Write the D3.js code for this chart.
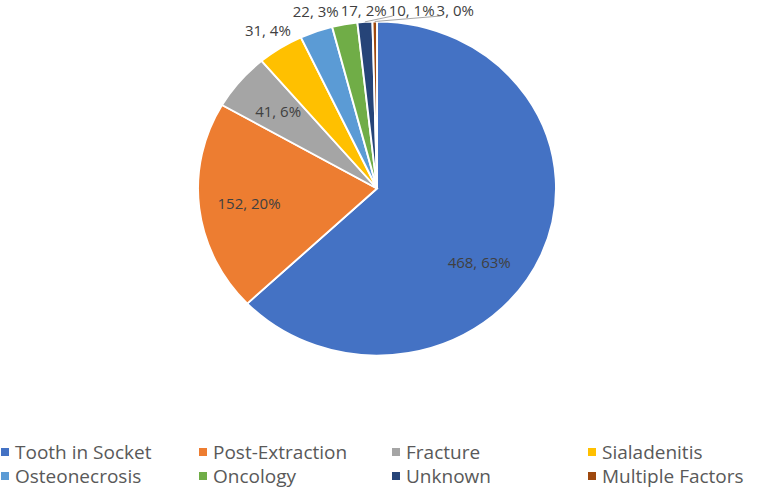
<!DOCTYPE html>
<html>
<head>
<meta charset="utf-8">
<script src="https://cdn.jsdelivr.net/npm/d3@7"></script>
<style>
body{margin:0;background:#fff;}
svg{display:block;font-family:"Open Sans",sans-serif;}
</style>
</head>
<body>
<svg width="762" height="489"></svg>
<script>
const categories = ["Tooth in Socket","Post-Extraction","Fracture","Sialadenitis","Osteonecrosis","Oncology","Unknown","Multiple Factors"];
const counts = [468,152,41,31,22,17,10,3];
const colors = ["#4472C4","#ED7D31","#A5A5A5","#FFC000","#5B9BD5","#70AD47","#264478","#9E480E"];

const width = 762, height = 489;
const cx = 377, cy = 188.5;
const ry = 167, rx = 179; // the reference pie is a little wider than tall
const total = d3.sum(counts);

const svg = d3.select("svg");

const pie = d3.pie().sort(null).value(d=>d)(counts);
const arc = d3.arc().innerRadius(0).outerRadius(ry);

const pieG = svg.append("g")
  .attr("transform",`translate(${cx},${cy}) scale(${rx/ry},1)`);

pieG.selectAll("path")
  .data(pie)
  .enter()
  .append("path")
  .attr("d",arc)
  .style("fill",(d,i)=>colors[i])
  .style("stroke","#fff")
  .style("stroke-width",1.8);

// point on the ellipse at angle a (0 = top, clockwise) and radius factor k
const pt = (a,k)=>[cx+Math.sin(a)*rx*k, cy-Math.cos(a)*ry*k];

const labelText = (d,i)=>`${counts[i]}, ${Math.round(counts[i]/total*100)}%`;
const fontSize = 15;

const labels = pie.map((d,i)=>{
  let mid = (d.startAngle+d.endAngle)/2;
  const inside = counts[i]/total >= 0.05;
  // big slice: label sits a bit lower like excel's best fit
  if(i===0) mid += 0.25;
  const p = pt(mid, inside ? 0.72 : 1.13);
  return {i, mid, inside, x:p[0], y:p[1], text:labelText(d,i)};
});

const lblG = svg.append("g");
const texts = lblG.selectAll("text")
  .data(labels)
  .enter()
  .append("text")
  .text(d=>d.text)
  .attr("text-anchor","middle")
  .attr("dominant-baseline","central")
  .style("font-size",fontSize+"px")
  .style("fill","#404040");

// spread the small outside labels so they don't overlap
texts.each(function(d){ d.w = this.getComputedTextLength(); });
const outside = labels.filter(d=>!d.inside);
outside.forEach(d=>{ if(d.y<10) d.y = 10; });
for(let k=1;k<outside.length;k++){
  const a = outside[k-1], b = outside[k];
  const minX = a.x + a.w/2 + b.w/2 + 2;
  if(b.x < minX) b.x = minX;
}
texts.attr("x",d=>d.x).attr("y",d=>d.y);

// leader lines
outside.forEach(d=>{
  const edge = pt(d.mid, 1.0);
  const dist = Math.hypot(edge[0]-d.x, edge[1]-d.y);
  if(dist < 24) return;
  let sx = d.x, sy = d.y + 6;
  if(edge[0] > d.x + d.w/2) { sx = d.x + d.w/2 - 4; }
  else if(edge[0] < d.x - d.w/2) { sx = d.x - d.w/2 + 4; }
  else sx = edge[0];
  lblG.append("path")
    .attr("d",`M${sx},${sy} L${edge[0]},${edge[1]}`)
    .style("fill","none")
    .style("stroke","#A6A6A6")
    .style("stroke-width",1);
});

// legend
const legendCols = [1,199,392,588];
const legendRows = [452,476];
const legend = svg.append("g").selectAll("g")
  .data(categories)
  .enter()
  .append("g")
  .attr("transform",(d,i)=>`translate(${legendCols[i%4]},${legendRows[Math.floor(i/4)]})`);
legend.append("rect")
  .attr("x",0).attr("y",-4).attr("width",8).attr("height",8)
  .style("fill",(d,i)=>colors[i]);
legend.append("text")
  .attr("x",14).attr("y",0)
  .attr("dominant-baseline","central")
  .text(d=>d)
  .style("font-size","19px")
  .style("fill","#595959");
</script>
</body>
</html>
